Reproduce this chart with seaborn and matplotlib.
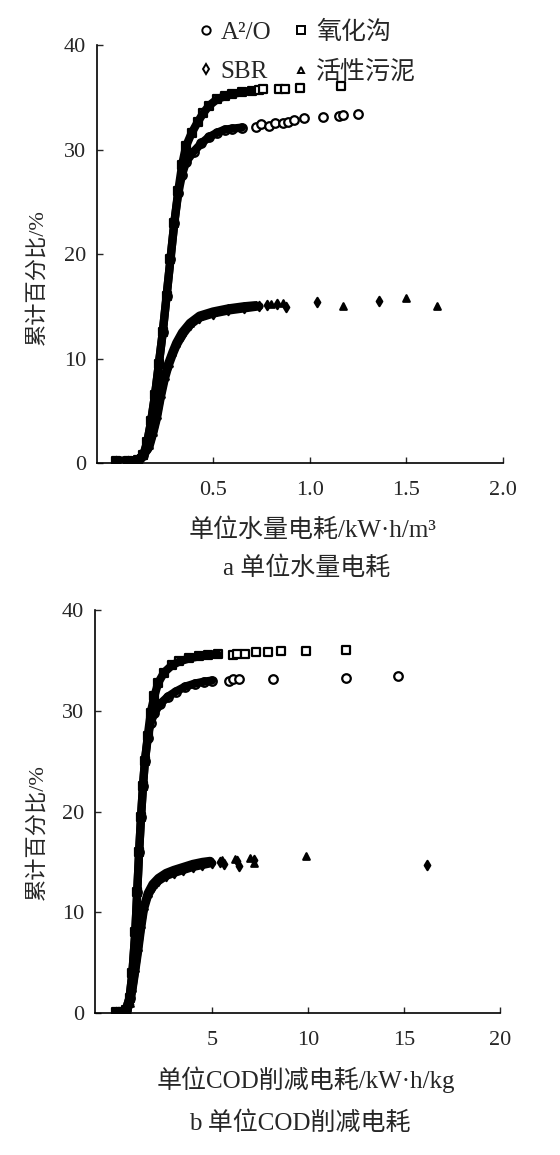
import pandas as pd
import matplotlib
matplotlib.use("Agg")
import matplotlib.pyplot as plt
from matplotlib.lines import Line2D
import seaborn as sns

# series names and their markers
names = ["A²/O", "氧化沟", "SBR", "活性污泥"]
marks = {"A²/O": "o", "氧化沟": "s", "SBR": "d", "活性污泥": "^"}

# ---- a: unit water energy use, kW·h/m3 (dense part and sparse tail) ----
a_ox_x = [0.00, 0.06, 0.11, 0.14, 0.16, 0.18, 0.20, 0.22, 0.24, 0.26, 0.28, 0.30, 0.32, 0.34,
          0.36, 0.39, 0.42, 0.45, 0.48, 0.52, 0.56, 0.60, 0.65, 0.70]
a_ox_y = [0.2, 0.2, 0.3, 0.8, 2.0, 4.0, 6.5, 9.5, 12.5, 16.0, 19.5, 23.0, 26.0, 28.5,
          30.3, 31.6, 32.6, 33.5, 34.2, 34.8, 35.1, 35.3, 35.5, 35.6]
a_ox_tx = [0.74, 0.76, 0.84, 0.87, 0.95, 1.16]
a_ox_ty = [35.7, 35.8, 35.8, 35.8, 35.9, 36.1]

a_ao_x = [0.00, 0.06, 0.11, 0.14, 0.16, 0.18, 0.20, 0.22, 0.24, 0.26, 0.28, 0.30, 0.32, 0.34,
          0.36, 0.40, 0.44, 0.48, 0.52, 0.56, 0.60, 0.65]
a_ao_y = [0.2, 0.2, 0.3, 0.8, 2.0, 4.0, 6.5, 9.5, 12.5, 16.0, 19.5, 23.0, 25.8, 27.6,
          28.8, 29.8, 30.6, 31.2, 31.6, 31.9, 32.0, 32.1]
a_ao_tx = [0.72, 0.75, 0.79, 0.82, 0.86, 0.89, 0.92, 0.97, 1.07, 1.15, 1.17, 1.25]
a_ao_ty = [32.2, 32.4, 32.3, 32.5, 32.5, 32.6, 32.8, 33.0, 33.1, 33.2, 33.3, 33.4]

a_sbr_x = [0.00, 0.06, 0.11, 0.14, 0.17, 0.19, 0.21, 0.23, 0.25, 0.27, 0.29, 0.31, 0.34,
           0.38, 0.43, 0.50, 0.58, 0.66, 0.74]
a_sbr_y = [0.2, 0.2, 0.3, 0.7, 1.5, 2.8, 4.3, 6.3, 8.0, 9.3, 10.3, 11.2, 12.2,
           13.2, 13.9, 14.3, 14.6, 14.8, 15.0]
a_sbr_tx = [0.78, 0.83, 0.88, 1.04, 1.36]
a_sbr_ty = [15.1, 15.2, 14.9, 15.4, 15.5]

a_as_x = [0.00, 0.06, 0.11, 0.14, 0.17, 0.19, 0.21, 0.23, 0.25, 0.27, 0.29, 0.31, 0.34,
          0.38, 0.43, 0.50, 0.58, 0.66, 0.72]
a_as_y = [0.2, 0.2, 0.3, 0.8, 1.7, 3.0, 4.6, 6.6, 8.3, 9.6, 10.6, 11.5, 12.5,
          13.4, 14.1, 14.5, 14.8, 15.0, 15.1]
a_as_tx = [0.80, 0.86, 1.17, 1.50, 1.66]
a_as_ty = [15.2, 15.3, 15.0, 15.8, 15.0]

# ---- b: unit COD removal energy use, kW·h/kg ----
b_ox_x = [0.0, 0.3, 0.5, 0.7, 0.85, 1.0, 1.1, 1.2, 1.3, 1.4, 1.5, 1.65, 1.8, 2.0, 2.2, 2.5,
          2.9, 3.3, 3.8, 4.3, 4.8, 5.3]
b_ox_y = [0.1, 0.1, 0.3, 1.5, 4.0, 8.0, 12.0, 16.0, 19.5, 22.5, 25.0, 27.5, 29.8, 31.5, 32.8, 33.8,
          34.5, 34.9, 35.2, 35.4, 35.5, 35.6]
b_ox_tx = [6.1, 6.3, 6.7, 7.3, 7.9, 8.6, 9.9, 12.0]
b_ox_ty = [35.5, 35.6, 35.6, 35.8, 35.8, 35.9, 35.9, 36.0]

b_ao_x = [0.0, 0.3, 0.5, 0.7, 0.85, 1.0, 1.1, 1.2, 1.3, 1.4, 1.5, 1.65, 1.8, 2.0, 2.3, 2.7,
          3.1, 3.6, 4.1, 4.6, 5.0]
b_ao_y = [0.1, 0.1, 0.3, 1.5, 4.0, 8.0, 12.0, 16.0, 19.5, 22.5, 25.0, 27.3, 28.8, 29.8, 30.7, 31.4,
          31.9, 32.4, 32.7, 32.9, 33.0]
b_ao_tx = [5.9, 6.1, 6.4, 8.2, 12.0, 14.7]
b_ao_ty = [33.0, 33.2, 33.2, 33.2, 33.3, 33.5]

b_sbr_x = [0.0, 0.3, 0.55, 0.7, 0.85, 1.0, 1.15, 1.3, 1.45, 1.65, 1.9, 2.2, 2.6, 3.0,
           3.5, 4.0, 4.5, 5.0]
b_sbr_y = [0.1, 0.1, 0.2, 0.9, 2.3, 4.2, 6.2, 8.4, 10.3, 11.6, 12.5, 13.1, 13.6, 13.9,
           14.2, 14.5, 14.7, 14.9]
b_sbr_tx = [5.4, 5.6, 6.3, 6.4, 7.2, 16.2]
b_sbr_ty = [15.0, 14.8, 15.1, 14.6, 15.2, 14.7]

b_as_x = [0.0, 0.3, 0.55, 0.7, 0.85, 1.0, 1.15, 1.3, 1.45, 1.65, 1.9, 2.2, 2.6, 3.0,
          3.5, 4.0, 4.5, 4.9]
b_as_y = [0.1, 0.1, 0.2, 1.0, 2.5, 4.5, 6.6, 8.8, 10.6, 11.9, 12.8, 13.4, 13.9, 14.2,
          14.5, 14.8, 15.0, 15.1]
b_as_tx = [5.5, 6.2, 7.0, 7.2, 9.9]
b_as_ty = [15.2, 15.3, 15.4, 14.9, 15.6]


def build(parts):
    rows = []
    for name, (cx, cy, tx, ty) in parts.items():
        for x, y in zip(cx, cy):
            rows.append({"工艺": name, "x": x, "y": y, "part": "curve"})
        for x, y in zip(tx, ty):
            rows.append({"工艺": name, "x": x, "y": y, "part": "tail"})
    return pd.DataFrame(rows)


df_a = build({"A²/O": (a_ao_x, a_ao_y, a_ao_tx, a_ao_ty),
              "氧化沟": (a_ox_x, a_ox_y, a_ox_tx, a_ox_ty),
              "SBR": (a_sbr_x, a_sbr_y, a_sbr_tx, a_sbr_ty),
              "活性污泥": (a_as_x, a_as_y, a_as_tx, a_as_ty)})
df_b = build({"A²/O": (b_ao_x, b_ao_y, b_ao_tx, b_ao_ty),
              "氧化沟": (b_ox_x, b_ox_y, b_ox_tx, b_ox_ty),
              "SBR": (b_sbr_x, b_sbr_y, b_sbr_tx, b_sbr_ty),
              "活性污泥": (b_as_x, b_as_y, b_as_tx, b_as_ty)})

sns.set_style("ticks")
plt.rcParams["font.family"] = ["Liberation Serif", "Noto Sans CJK SC"]
plt.rcParams["axes.unicode_minus"] = False

fig = plt.figure(figsize=(5.6, 11.55), dpi=100)
ax_a = fig.add_axes([0.1732, 0.5991, 0.7250, 0.3619])
ax_b = fig.add_axes([0.1696, 0.1229, 0.7232, 0.3489])

sizes = {"A²/O": 38, "氧化沟": 34, "SBR": 22, "活性污泥": 22}
faces = {"A²/O": "white", "氧化沟": "white", "SBR": "black", "活性污泥": "black"}


def draw(ax, df):
    for name in names:
        sub = df[df["工艺"] == name]
        sns.scatterplot(data=sub, x="x", y="y", marker=marks[name], s=sizes[name],
                        facecolor=faces[name], edgecolor="black", linewidth=1.6,
                        ax=ax, legend=False, zorder=2)
        cur = sub[sub["part"] == "curve"]
        sns.lineplot(data=cur, x="x", y="y", color="black", linewidth=6, sort=False,
                     ax=ax, legend=False, zorder=3)
    ax.set_ylim(0, 40)
    ax.set_yticks([0, 10, 20, 30, 40])
    ax.tick_params(direction="in", length=4, width=1.0, labelsize=16)
    ax.tick_params(axis="x", pad=13)
    ax.tick_params(axis="y", pad=8)
    for s in ("left", "bottom"):
        ax.spines[s].set_linewidth(1.2)
        ax.spines[s].set_color("black")
    sns.despine(ax=ax)
    ax.set_ylabel("累计百分比/%", fontsize=16, fontweight="medium")


draw(ax_a, df_a)
ax_a.set_xlim(-0.1, 2.0)
ax_a.set_xticks([0.5, 1.0, 1.5, 2.0])
ax_a.set_xticklabels(["0.5", "1.0", "1.5", "2.0"])
ax_a.set_xlabel("单位水量电耗/kW·h/m³", fontsize=18, fontweight="medium")
ax_a.xaxis.label.set_va("center")
ax_a.xaxis.set_label_coords(0.53, -0.160)
ax_a.yaxis.label.set_va("center")
ax_a.yaxis.set_label_coords(-0.148, 0.445)

draw(ax_b, df_b)
ax_b.set_xlim(-1.1, 20)
ax_b.set_xticks([5, 10, 15, 20])
ax_b.set_xlabel("单位COD削减电耗/kW·h/kg", fontsize=18, fontweight="medium")
ax_b.xaxis.label.set_va("center")
ax_b.xaxis.set_label_coords(0.52, -0.166)
ax_b.yaxis.label.set_va("center")
ax_b.yaxis.set_label_coords(-0.143, 0.449)

fig.text(307 / 560, 1 - 568 / 1155, "a 单位水量电耗", ha="center", va="center",
         fontsize=18, fontweight="medium")
fig.text(300 / 560, 1 - 1123 / 1155, "b 单位COD削减电耗", ha="center", va="center",
         fontsize=18, fontweight="medium")

# legend: rows "A²/O, 氧化沟" and "SBR, 活性污泥" (legend fills column by column)
leg_order = ["A²/O", "SBR", "氧化沟", "活性污泥"]
handles = [Line2D([], [], ls="none", marker=marks[n], markersize=6 if n in ("A²/O", "氧化沟") else 5,
                  markerfacecolor="white", markeredgecolor="black", markeredgewidth=1.4)
           for n in leg_order]
fig.legend(handles, leg_order, loc="upper left", bbox_to_anchor=(198 / 560, 1 - 21 / 1155),
           ncol=2, frameon=False, handlelength=0.6, handletextpad=0.3,
           columnspacing=0.9, labelspacing=0.65, borderpad=0, borderaxespad=0,
           prop={"size": 18, "weight": "medium"})

fig.savefig("out.png", dpi=100)
